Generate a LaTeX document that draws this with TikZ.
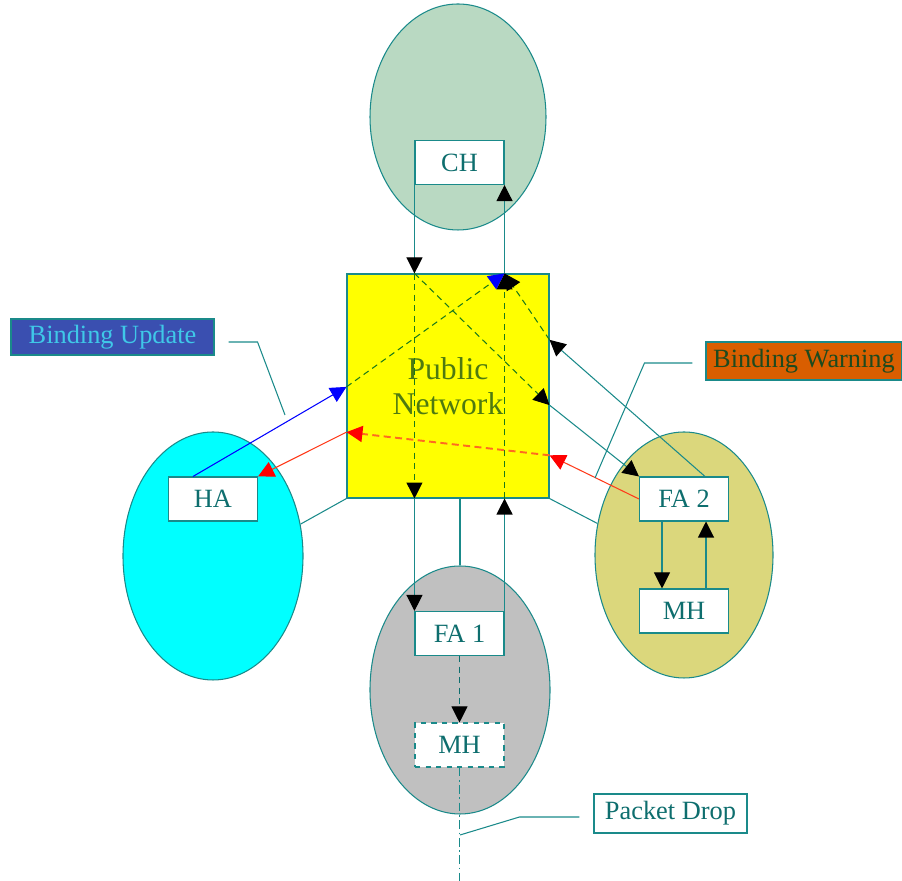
\documentclass[tikz,border=0pt]{standalone}
\usepackage{fontspec}
\setmainfont{Liberation Serif}
\usetikzlibrary{arrows.meta, positioning, shapes.geometric, calc}
\definecolor{lineteal}{HTML}{1A8A8A}
\definecolor{chgreen}{HTML}{B9D9C2}
\definecolor{fagrey}{HTML}{C0C0C0}
\definecolor{fakhaki}{HTML}{DBD77C}
\definecolor{hacyan}{HTML}{00FFFF}
\definecolor{netyellow}{HTML}{FFFF00}
\definecolor{dashgreen}{HTML}{1A7A1A}
\definecolor{bublue}{HTML}{3A4FB0}
\definecolor{butext}{HTML}{3FC8E8}
\definecolor{bworange}{HTML}{D95E00}
\definecolor{bwtext}{HTML}{1E4A1E}
\definecolor{nettext}{HTML}{4E7A10}
\definecolor{boxtext}{HTML}{0E6E6E}
\definecolor{warnred}{HTML}{FF3A1A}
\definecolor{warndash}{HTML}{FF6A20}

\begin{document}
\begin{tikzpicture}[
    zone/.style={draw=lineteal, ellipse, line width=0.6pt, inner sep=0pt,
                 minimum width=3.6cm, minimum height=4.96cm},
    host/.style={draw=lineteal, fill=white, line width=0.6pt, minimum width=1.78cm,
                 minimum height=0.88cm, inner sep=0pt, text=boxtext,
                 font=\fontsize{15}{17}\selectfont},
    tag/.style={draw=lineteal, line width=0.6pt, inner sep=0pt,
                font=\fontsize{15}{17}\selectfont},
    arrow/.style={-{Triangle[length=3.2mm, width=3.2mm, black]}, draw=lineteal, line width=0.6pt},
    inner/.style={draw=dashgreen, dash pattern=on 3.5pt off 2.5pt},
    redarrow/.style={-{Triangle[length=3.2mm, width=3.2mm, red]}, draw=warnred, line width=0.6pt},
    bluearrow/.style={-{Triangle[length=3.2mm, width=3.2mm, blue]}, draw=blue, line width=0.6pt},
    link/.style={draw=lineteal, line width=0.6pt},
    callout/.style={draw=lineteal, line width=0.6pt}
  ]
    \useasboundingbox (0,0) rectangle (18.04,17.62);

    % Domains
    \node[zone, fill=chgreen, minimum width=3.52cm, minimum height=4.52cm] (CHzone) at (9.16,15.28) {};
    \node[zone, fill=hacyan] (HAzone) at (4.26,6.5) {};
    \node[zone, fill=fagrey] (FA1zone) at (9.2,3.82) {};
    \node[zone, fill=fakhaki, minimum width=3.56cm, minimum height=4.92cm] (FA2zone) at (13.68,6.52) {};

    % Public network
    \node[draw=lineteal, fill=netyellow, line width=0.6pt, minimum width=4.04cm, minimum height=4.48cm,
          align=center, text=nettext, font=\fontsize{18}{20}\selectfont] (net) at (8.96,9.9) {Public\\Network};

    % Hosts
    \node[host] (CH) at (9.19,14.37) {CH};
    \node[host] (HA) at (4.26,7.64) {HA};
    \node[host] (FA1) at (9.19,4.95) {FA 1};
    \node[host, dashed] (MH1) at (9.19,2.72) {MH};
    \node[host] (FA2) at (13.68,7.64) {FA 2};
    \node[host] (MH2) at (13.68,5.4) {MH};

    % Labels
    \node[tag, fill=bublue, text=butext, minimum width=4.06cm, minimum height=0.72cm] (BU) at (2.25,10.88) {Binding Update};
    \node[tag, fill=bworange, text=bwtext, minimum width=3.92cm, minimum height=0.76cm] (BW) at (16.08,10.4) {Binding Warning};
    \node[tag, fill=white, text=boxtext, minimum width=3.06cm, minimum height=0.78cm] (PD) at (13.41,1.35) {Packet Drop};

    % Points on the network border
    \coordinate (inL) at (CH.south west |- net.north);
    \coordinate (inR) at (CH.south east |- net.north);
    \coordinate (outL) at (CH.south west |- net.south);
    \coordinate (outR) at (CH.south east |- net.south);
    \coordinate (fa2in) at ($(net.north east)!0.585!(net.south east)$);
    \coordinate (fa2out) at ($(net.north east)!0.295!(net.south east)$);
    \coordinate (redin) at ($(net.north east)!0.808!(net.south east)$);
    \coordinate (redout) at ($(net.north west)!0.705!(net.south west)$);
    \coordinate (bluein) at ($(net.north west)!0.504!(net.south west)$);
    \coordinate (drop) at (MH1.south |- 0,0);
    \coordinate (butip) at (5.7,9.32);
    \coordinate (bwtip) at (11.9,8.06);
    \coordinate (pdtip) at (9.2,0.92);

    % Links to the network
    \draw[link] (FA1zone.north |- net.south) -- (FA1zone.north);
    \draw[link] (net.south west) -- (HAzone.20);
    \draw[link] (net.south east) -- (FA2zone.160);

    % CH to FA 1 and back
    \draw[arrow] (CH.south west) -- (inL);
    \draw[arrow, inner] (inL) -- (outL);
    \draw[arrow] (outL) -- (FA1.north west);
    \draw[arrow] (FA1.north east) -- (outR);
    \draw[arrow, inner] (outR) -- (inR);
    \draw[arrow] (inR) -- (CH.south east);

    % CH to FA 2 and back
    \draw[arrow, inner] (inL) -- (fa2in);
    \draw[arrow] (fa2in) -- (FA2.north west);
    \draw[arrow] ([xshift=0.42cm]FA2.north) -- (fa2out);
    \draw[arrow, inner] (fa2out) -- (inR);

    % Binding warning
    \draw[redarrow] (FA2.west) -- (redin);
    \draw[redarrow, draw=warndash, line width=1.1pt, dash pattern=on 4pt off 2.5pt] (redin) -- (redout);
    \draw[redarrow] (redout) -- (HA.north east);

    % Binding update
    \draw[bluearrow] ([xshift=-0.4cm]HA.north) -- (bluein);
    \draw[bluearrow, inner] (bluein) -- (inR);

    % FA 2 and MH
    \draw[arrow] ([xshift=-0.44cm]FA2.south) -- ([xshift=-0.44cm]MH2.north);
    \draw[arrow] ([xshift=0.44cm]MH2.north) -- ([xshift=0.44cm]FA2.south);

    % FA 1 to lost MH
    \draw[arrow, draw=boxtext, dash pattern=on 3.5pt off 2.5pt] (FA1.south) -- (MH1.north);
    \draw[link, dash pattern=on 5pt off 2pt on 1pt off 2pt] (MH1.south) -- (drop);

    % Callouts
    \draw[callout] ([shift={(0.28,-0.1)}]BU.east) -- ++(0.58,0) -- (butip);
    \draw[callout] ([shift={(-0.26,-0.04)}]BW.west) -- ++(-0.96,0) -- (bwtip);
    \draw[callout] ([shift={(-0.28,-0.07)}]PD.west) -- ++(-1.2,0) -- (pdtip);
\end{tikzpicture}
\end{document}
